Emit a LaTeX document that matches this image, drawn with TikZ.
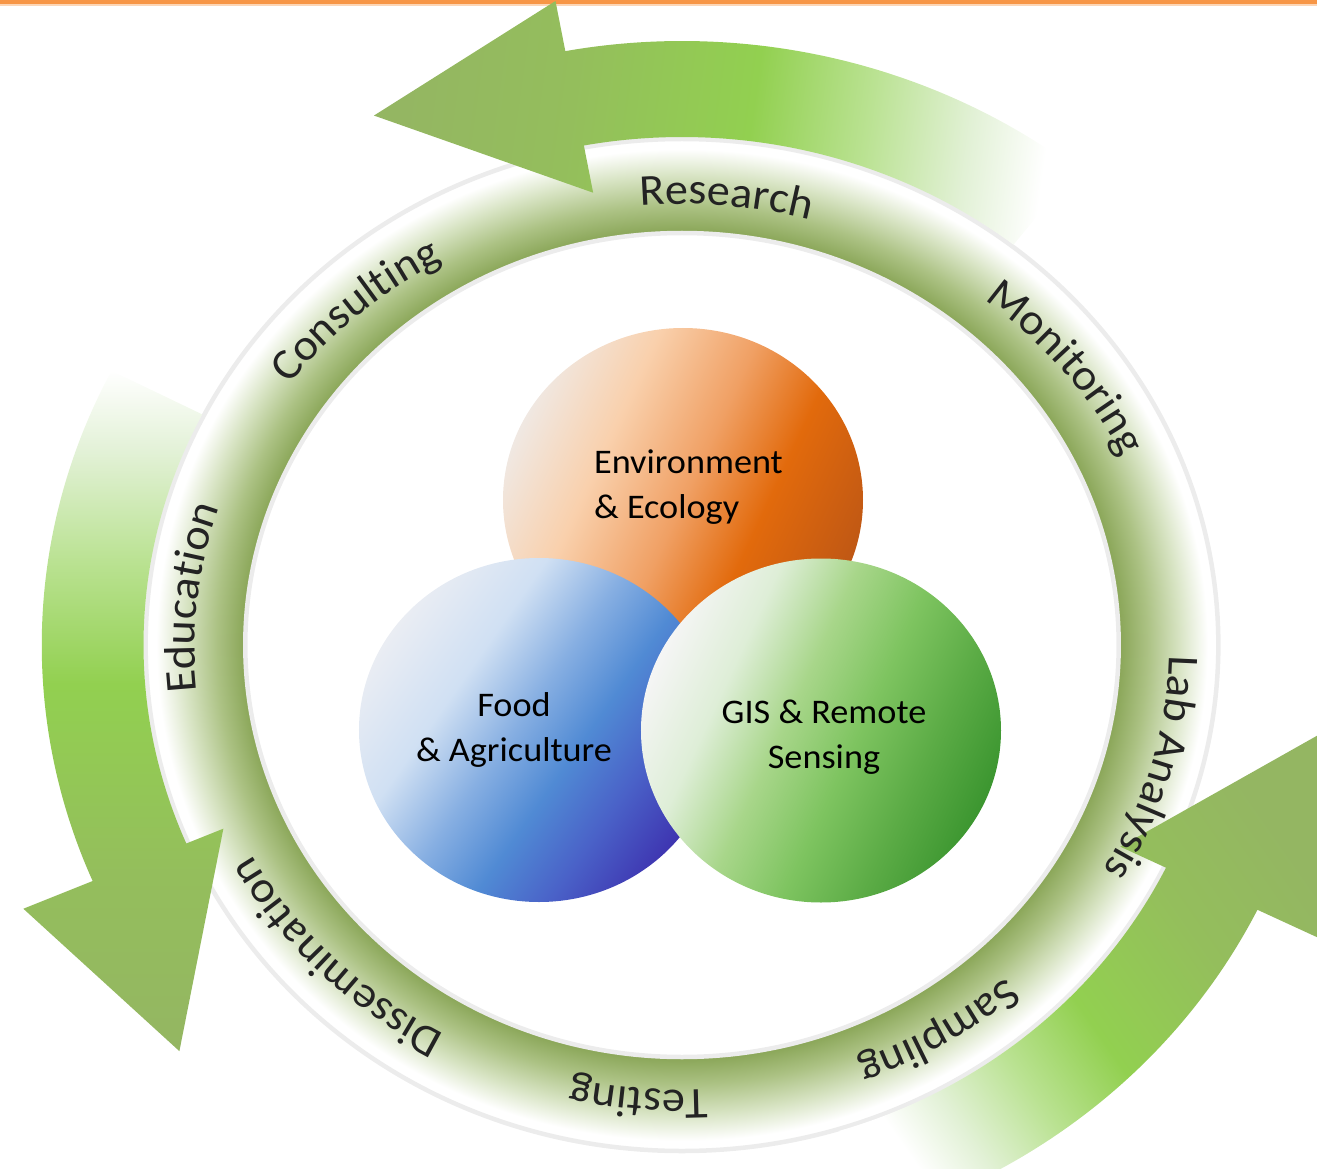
\documentclass[tikz,border=0pt]{standalone}
\usepackage{fontspec}
\setmainfont[FakeStretch=1.05]{Carlito}
\usepackage{tikz}
\usetikzlibrary{shapes.geometric, calc, positioning, decorations.text}

% 颜色(在定义渐变之前)
\definecolor{barOrange}{RGB}{247,150,70}
\definecolor{barPale}{RGB}{252,214,182}
\definecolor{ringDark}{RGB}{138,166,88}
\definecolor{ringMid}{RGB}{172,194,132}
\definecolor{ringLight}{RGB}{216,228,196}
\definecolor{ringLine}{RGB}{236,236,236}
\definecolor{ringInk}{RGB}{35,35,35}
\definecolor{arrowHead}{RGB}{148,182,98}
\definecolor{arrowHeadB}{RGB}{148,190,92}
\definecolor{arrowBright}{RGB}{146,208,80}
\definecolor{arrowLight}{RGB}{186,226,146}
\definecolor{arrowPale}{RGB}{226,241,214}
\definecolor{envA}{RGB}{240,232,226}
\definecolor{envB}{RGB}{249,208,172}
\definecolor{envC}{RGB}{240,160,100}
\definecolor{envD}{RGB}{226,106,12}
\definecolor{envE}{RGB}{192,88,20}
\definecolor{foodA}{RGB}{234,237,243}
\definecolor{foodB}{RGB}{208,224,243}
\definecolor{foodC}{RGB}{135,175,226}
\definecolor{foodD}{RGB}{80,138,212}
\definecolor{foodE}{RGB}{74,98,200}
\definecolor{foodF}{RGB}{62,52,176}
\definecolor{gisA}{RGB}{245,245,245}
\definecolor{gisB}{RGB}{222,238,215}
\definecolor{gisC}{RGB}{168,214,138}
\definecolor{gisD}{RGB}{126,196,96}
\definecolor{gisE}{RGB}{92,172,70}
\definecolor{gisF}{RGB}{60,150,48}

% 渐变
\pgfdeclareradialshading{ringshade}{\pgfpointorigin}{color(0bp)=(ringDark); color(20.4bp)=(ringDark); color(21.7bp)=(ringMid); color(23.2bp)=(ringLight); color(24.5bp)=(white); color(50bp)=(white)}
\pgfdeclarehorizontalshading{arrowshade}{100bp}{color(0bp)=(arrowHead); color(25bp)=(arrowHead); color(38bp)=(arrowHeadB); color(52bp)=(arrowBright); color(61bp)=(arrowLight); color(69bp)=(arrowPale); color(75bp)=(white); color(100bp)=(white)}
\pgfdeclarehorizontalshading{envshade}{100bp}{color(0bp)=(envA); color(25bp)=(envA); color(37bp)=(envB); color(50bp)=(envC); color(61bp)=(envD); color(75bp)=(envE); color(100bp)=(envE)}
\pgfdeclarehorizontalshading{foodshade}{100bp}{color(0bp)=(foodA); color(25bp)=(foodA); color(37bp)=(foodB); color(47bp)=(foodC); color(56bp)=(foodD); color(65bp)=(foodE); color(75bp)=(foodF); color(100bp)=(foodF)}
\pgfdeclarehorizontalshading{gisshade}{100bp}{color(0bp)=(gisA); color(25bp)=(gisA); color(35bp)=(gisB); color(45bp)=(gisC); color(55bp)=(gisD); color(65bp)=(gisE); color(75bp)=(gisF); color(100bp)=(gisF)}

\newcommand{\ringfont}{\fontsize{44}{52}\selectfont}
\newcommand{\topicfont}{\fontsize{34.5}{45}\selectfont}

\tikzset{
  ringtext/.style={decorate, decoration={text along path, text align=center, text color=ringInk, text={|\ringfont|#1}}},
  topic/.style={ellipse, shade, minimum width=360pt, minimum height=344pt, inner sep=0pt},
  topictext/.style={font=\topicfont, align=center, inner sep=0pt},
  bigarrow/.style={shading=arrowshade, shading angle=#1}
}

\begin{document}
\begin{tikzpicture}[x=1pt, y=1pt]
  \useasboundingbox (-682,-523) rectangle (635,645);
  \clip (-682,-523) rectangle (635,645);

  % 顶部橙色细条
  \fill[barPale] (-682,639) rectangle (635,641.5);
  \fill[barOrange] (-682,641) rectangle (635,645);

  \begin{scope}[xscale=1.06]
    % 渐变圆环
    \shade[shading=ringshade, even odd rule] (0,0) circle[radius=506] (0,0) circle[radius=412];
    \draw[ringLine, line width=4.5pt] (0,0) circle[radius=506];
    \draw[ringLine, line width=4.5pt] (0,0) circle[radius=412];

    % 三个弧形箭头
    \shade[bigarrow=-8] (100.5:655) -- ($(100.5:557)+(185.5:190)$) -- (100.5:460) -- (100.5:508)
      arc[start angle=100.5, end angle=52, radius=508] -- (52:604)
      arc[start angle=52, end angle=100.5, radius=604] -- cycle;
    \shade[bigarrow=90] (203:675) -- ($(203:572)+(286:190)$) -- (203:470) -- (203:508)
      arc[start angle=203, end angle=153, radius=508] -- (153:604)
      arc[start angle=153, end angle=203, radius=604] -- cycle;
    \shade[bigarrow=215] (334:675) -- ($(334:567)+(59:190)$) -- (334:460) -- (334:508)
      arc[start angle=334, end angle=287, radius=508] -- (287:604)
      arc[start angle=287, end angle=334, radius=604] -- cycle;
  \end{scope}

  % 中心三个圆
  \node[topic, shading=envshade, shading angle=-25] (env) at (1,145) {};
  \node[topic, shading=foodshade, shading angle=-35] (food) at (-143,-85) {};
  \node[topic, shading=gisshade, shading angle=-25] (gis) at (139,-85.5) {};
  \node[topictext, align=left] (envlabel) at ([xshift=5.5pt, yshift=13pt]env.center) {Environment\\\& Ecology};
  \node[topictext] (foodlabel) at ([xshift=-25pt]food.center) {Food\\\& Agriculture};
  \node[topictext] (gislabel) at ([xshift=3pt, yshift=-7pt]gis.center) {GIS \& Remote\\Sensing};

  % 环上文字(顺时针)
  \begin{scope}[yshift=-2, xscale=1.1]
    \path[ringtext=Research] (129.6:443) arc[start angle=129.6, end angle=39.6, radius=443];
    \path[ringtext=Monitoring] (82.3:443) arc[start angle=82.3, end angle=-7.7, radius=443];
    \path[ringtext=Lab Analysis] (30:443) arc[start angle=30, end angle=-60, radius=443];
    \path[ringtext=Sampling] (-12.5:443) arc[start angle=-12.5, end angle=-102.5, radius=443];
    \path[ringtext=Testing] (-50.2:443) arc[start angle=-50.2, end angle=-140.2, radius=443];
    \path[ringtext=Dissemination] (-91.7:443) arc[start angle=-91.7, end angle=-181.7, radius=443];
    \path[ringtext=Education] (219:443) arc[start angle=219, end angle=129, radius=443];
    \path[ringtext=Consulting] (177.8:443) arc[start angle=177.8, end angle=87.8, radius=443];
  \end{scope}
\end{tikzpicture}
\end{document}
